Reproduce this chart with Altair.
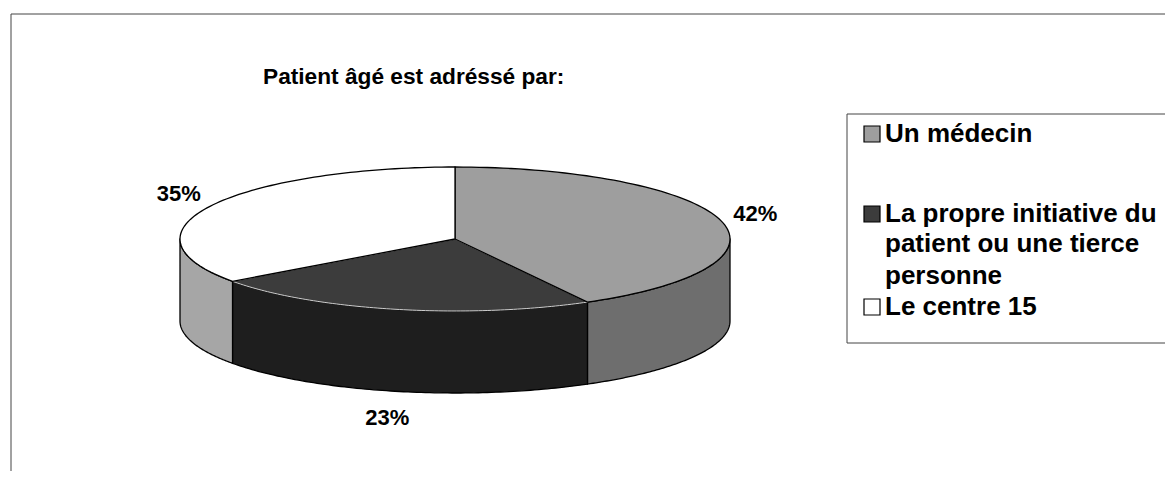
import altair as alt
import pandas as pd

# ---- data ----
labels = ["Un médecin",
          "La propre initiative du patient ou une tierce personne",
          "Le centre 15"]
values = [42, 23, 35]
pct_labels = ["42%", "23%", "35%"]
legend_lines = [["Un médecin"],
                ["La propre initiative du", "patient ou une tierce", "personne"],
                ["Le centre 15"]]
title_text = "Patient âgé est adréssé par:"

# ---- styles ----
top_colors = ["#9e9e9e", "#3c3c3c", "#ffffff"]
side_colors = ["#6e6e6e", "#1e1e1e", "#a6a6a6"]
top_strokes = ["black", "#cfcfcf", "black"]
FONT = "Liberation Sans"

# ---- layout (page pixels) ----
W, H, OFF = 1157, 463, 8
CX, CY, A, B, D = 455, 239, 275, 72, 82
LA, LB = 310, 99          # label ellipse
N = 90

xs = alt.Scale(domain=[OFF, OFF + W], range=[0, W], nice=False, zero=False)
ys = alt.Scale(domain=[OFF, OFF + H], range=[0, H], nice=False, zero=False)


def XY(xf, yf):
    return dict(x=alt.X(f"{xf}:Q", scale=xs, axis=None),
                y=alt.Y(f"{yf}:Q", scale=ys, axis=None))


slices = pd.DataFrame({"label": labels, "value": values,
                       "pct": pct_labels, "k": list(range(len(labels)))})

base = (alt.Chart(slices)
        .transform_joinaggregate(total="sum(value)")
        .transform_window(cum="sum(value)", sort=[alt.SortField("k")], frame=[None, 0])
        .transform_calculate(a1="2*PI*datum.cum/datum.total")
        .transform_calculate(a0="2*PI*(datum.cum-datum.value)/datum.total"))

layers = []

# outer frame and legend frame
frames = pd.DataFrame({"x": [11, 847], "x2": [1400, 1400],
                       "y": [14, 114], "y2": [700, 343]})
layers.append(alt.Chart(frames).mark_rect(fillOpacity=0, stroke="#444", strokeWidth=1)
              .encode(x=alt.X("x:Q", scale=xs, axis=None), x2="x2:Q",
                      y=alt.Y("y:Q", scale=ys, axis=None), y2="y2:Q"))

# side walls (front half only)
for k in range(len(labels)):
    side = (base.transform_filter(f"datum.k == {k}")
            .transform_calculate(s0="max(datum.a0, PI/2)")
            .transform_calculate(s1="min(datum.a1, 3*PI/2)")
            .transform_filter("datum.s1 > datum.s0")
            .transform_calculate(i=f"sequence(0, {2 * N + 2})")
            .transform_flatten(["i"])
            .transform_calculate(t=f"datum.i <= {N} ? datum.i/{N} : ({2 * N + 1}-datum.i)/{N}")
            .transform_calculate(ang="datum.s0 + (datum.s1-datum.s0)*datum.t")
            .transform_calculate(px=f"{CX} + {A}*sin(datum.ang)")
            .transform_calculate(py=f"{CY} - {B}*cos(datum.ang) + (datum.i > {N} ? {D} : 0)")
            .mark_line(fill=side_colors[k], stroke="black", strokeWidth=1.3,
                       interpolate="linear-closed", strokeJoin="round")
            .encode(order="i:Q", **XY("px", "py")))
    layers.append(side)

# top faces (dark slice first so its light rim sits under the neighbours' black edges)
for k in [1, 0, 2]:
    top = (base.transform_filter(f"datum.k == {k}")
           .transform_calculate(i=f"sequence(0, {N + 2})")
           .transform_flatten(["i"])
           .transform_calculate(ang=f"datum.a0 + (datum.a1-datum.a0)*max(datum.i-1, 0)/{N}")
           .transform_calculate(px=f"datum.i == 0 ? {CX} : {CX} + {A}*sin(datum.ang)")
           .transform_calculate(py=f"datum.i == 0 ? {CY} : {CY} - {B}*cos(datum.ang)")
           .mark_line(fill=top_colors[k], stroke=top_strokes[k],
                      strokeWidth=1.3 if k != 1 else 1.0,
                      interpolate="linear-closed", strokeJoin="round")
           .encode(order="i:Q", **XY("px", "py")))
    layers.append(top)

# percentage labels
lab = (base.transform_calculate(mid="(datum.a0+datum.a1)/2")
       .transform_calculate(lx=f"{CX} + {LA}*sin(datum.mid)")
       .transform_calculate(ly=f"{CY} - {LB}*cos(datum.mid) + (cos(datum.mid) < 0 ? {D} : 0)")
       .mark_text(font=FONT, fontSize=22, fontWeight="bold", color="black",
                  align="center", baseline="middle")
       .encode(text="pct:N", **XY("lx", "ly")))
layers.append(lab)

# title
tdf = pd.DataFrame({"t": [title_text], "x": [263], "y": [84]})
layers.append(alt.Chart(tdf).mark_text(font=FONT, fontSize=22.7, fontWeight="bold",
                                       color="black", align="left", baseline="alphabetic")
              .encode(text="t:N", **XY("x", "y")))

# legend
line_base = [[142], [222, 252, 284], [315]]
rows, boxes = [], []
for e, lines in enumerate(legend_lines):
    for j, line in enumerate(lines):
        rows.append({"t": line, "x": 885, "y": line_base[e][j]})
    boxes.append({"label": labels[e], "x": 864, "x2": 880,
                  "y": line_base[e][0] - 16, "y2": line_base[e][0]})
ldf = pd.DataFrame(rows)
bdf = pd.DataFrame(boxes)
layers.append(alt.Chart(bdf).mark_rect(stroke="black", strokeWidth=1.2)
              .encode(x=alt.X("x:Q", scale=xs, axis=None), x2="x2:Q",
                      y=alt.Y("y:Q", scale=ys, axis=None), y2="y2:Q",
                      fill=alt.Fill("label:N", scale=alt.Scale(domain=labels, range=top_colors),
                                    legend=None)))
layers.append(alt.Chart(ldf).mark_text(font=FONT, fontSize=26, fontWeight="bold",
                                       color="black", align="left", baseline="alphabetic")
              .encode(text="t:N", **XY("x", "y")))

chart = (alt.layer(*layers)
         .properties(width=W, height=H, padding=0,
                     autosize=alt.AutoSizeParams(type="none"), background="white")
         .configure_view(stroke=None))

chart.save("out.html", embed_options={"renderer": "svg", "actions": False})
